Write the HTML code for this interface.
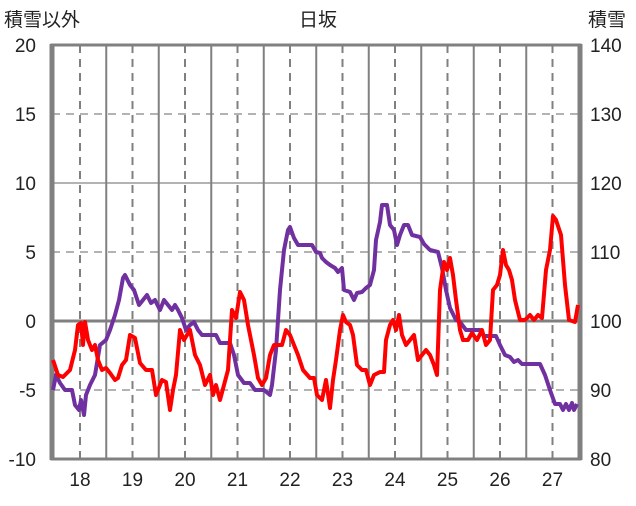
<!DOCTYPE html>
<html><head><meta charset="utf-8"><style>
body{margin:0;background:#fff;}
svg text{font-family:"Liberation Sans","Noto Sans CJK JP",sans-serif;}
</style></head><body>
<svg id="chart" width="636" height="501" xmlns="http://www.w3.org/2000/svg"></svg>
<script>
const xTicks=[18,19,20,21,22,23,24,25,26,27];
const leftTicks=[20,15,10,5,0,-5,-10];
const rightTicks=[140,130,120,110,100,90,80];
const redX=[53,58,63,70,75,78,81,83,85,88,92,95,98,102,106,110,115,118,122,126,130,135,140,146,152,156,162,166,170,173,176,180,184,190,195,200,205,210,213,216,220,224,228,232,236,240,244,248,254,258,262,266,270,274,282,286,290,294,298,303,310,314,317,322,326,330,333,336,340,343,346,350,353,357,362,366,370,374,380,384,386,390,393,396,399,402,406,410,414,418,422,426,430,434,437,440,444,447,450,453,456,460,463,468,472,477,482,486,490,493,497,500,503,506,509,512,515,520,525,530,534,538,542,546,550,553,556,561,565,569,575,578];
const redY=[360,375,377,370,350,325,323,345,322,340,350,345,360,370,368,373,380,378,365,360,335,338,363,370,370,395,380,382,410,390,375,330,340,330,355,365,385,375,395,385,400,385,370,310,318,292,300,325,355,378,385,378,355,345,345,330,335,345,355,370,378,378,395,400,380,408,380,360,330,315,322,325,335,365,370,370,385,375,372,372,340,325,320,330,315,335,345,340,335,360,355,350,355,365,375,290,262,270,258,275,300,330,340,340,333,340,330,345,340,290,285,275,250,265,270,280,300,320,320,315,320,315,318,270,250,216,220,235,285,320,322,305];
const purX=[53,56,60,65,72,75,79,81,84,86,90,95,100,106,110,115,119,123,125,130,134,139,143,147,151,155,160,164,168,172,175,178,182,186,190,194,198,202,216,220,230,234,238,244,250,255,264,270,272,276,280,284,288,290,294,298,312,316,320,322,326,330,335,338,342,344,350,354,357,362,366,370,374,376,380,382,387,390,394,397,400,404,408,412,420,424,430,438,442,446,450,456,460,466,480,484,496,500,505,510,514,518,522,540,545,550,555,560,563,566,569,572,574,577];
const purY=[390,375,383,390,390,405,410,400,415,395,385,375,345,340,330,315,300,278,275,285,290,305,300,295,303,300,310,300,305,310,305,310,318,330,325,322,330,335,335,343,343,355,375,383,383,390,390,395,385,350,290,250,230,227,238,245,245,252,253,258,262,265,268,272,268,290,292,300,293,292,288,285,270,240,222,205,205,225,230,245,235,225,225,235,237,244,250,252,268,290,308,320,322,330,330,336,336,345,355,357,362,360,364,364,375,390,404,404,410,404,410,403,410,404];
const redYears=redX.map(p=>18+(p-80)/52.5), redVals=redY.map(p=>(321-p)/13.8);
const purYears=purX.map(p=>18+(p-80)/52.5), purVals=purY.map(p=>100+(321-p)/6.9);
const L=52,R=580,T=45,B=459;
const xs=v=>80+(v-18)*52.5;
const yl=v=>B-(v+10)*(B-T)/30;
const yr=v=>B-(v-80)*(B-T)/60;
const svg=document.getElementById('chart');
const NS='http://www.w3.org/2000/svg';
function mk(tag,attrs,parent){const e=document.createElementNS(NS,tag);for(const k in attrs)e.setAttribute(k,attrs[k]);(parent||svg).appendChild(e);return e;}
leftTicks.forEach(v=>{const y=yl(v);if(v===20||v===-10)return;
const g=mk('line',{x1:L,x2:R,y1:y,y2:y,stroke:v===0?'#808080':'#9a9a9a','stroke-width':v===0?3:1.5,'stroke-dasharray':(v===-5||v===5||v===15)?'8,6':'none'});

});
xTicks.forEach(v=>{const x=xs(v);
const d=mk('line',{x1:x,x2:x,y1:T,y2:B,stroke:'#808080','stroke-width':2,'stroke-dasharray':'8,6'});


const sx=xs(v+0.5);if(sx<R-4){const s=mk('line',{x1:sx,x2:sx,y1:T,y2:B,stroke:'#808080','stroke-width':2});

}
const t=mk('text',{x:x,y:486,'text-anchor':'middle','font-size':19,fill:'#222'});t.textContent=v;

});
const fr=mk('rect',{x:L,y:T,width:R-L,height:B-T,fill:'none',stroke:'#808080','stroke-width':3});


[L,R].forEach(x=>{const a=mk('line',{x1:x,x2:x,y1:T-1,y2:B+1,stroke:'#808080','stroke-width':5});

});
leftTicks.forEach(v=>{const t=mk('text',{x:36,y:yl(v)+7,'text-anchor':'end','font-size':19,fill:'#222'});t.textContent=v;

});
rightTicks.forEach(v=>{const t=mk('text',{x:590,y:yr(v)+7,'text-anchor':'start','font-size':19,fill:'#222'});t.textContent=v;

});
function line(xsArr,vals,yf,color,name){const d=xsArr.map((v,i)=>(i?'L':'M')+xs(v).toFixed(1)+','+yf(vals[i]).toFixed(1)).join('');
const p=mk('path',{d:d,fill:'none',stroke:color,'stroke-width':4,'stroke-linejoin':'round'});

}
line(purYears,purVals,yr,'#7030a0','snow-series-line');
line(redYears,redVals,yl,'#ff0000','non-snow-series-line');
const t1=mk('text',{x:4,y:26,'font-size':19,fill:'#222'});t1.textContent='積雪以外';


const t2=mk('text',{x:318,y:26,'text-anchor':'middle','font-size':19,fill:'#222'});t2.textContent='日坂';


const t3=mk('text',{x:588,y:26,'font-size':19,fill:'#222'});t3.textContent='積雪';


</script>
</body></html>
